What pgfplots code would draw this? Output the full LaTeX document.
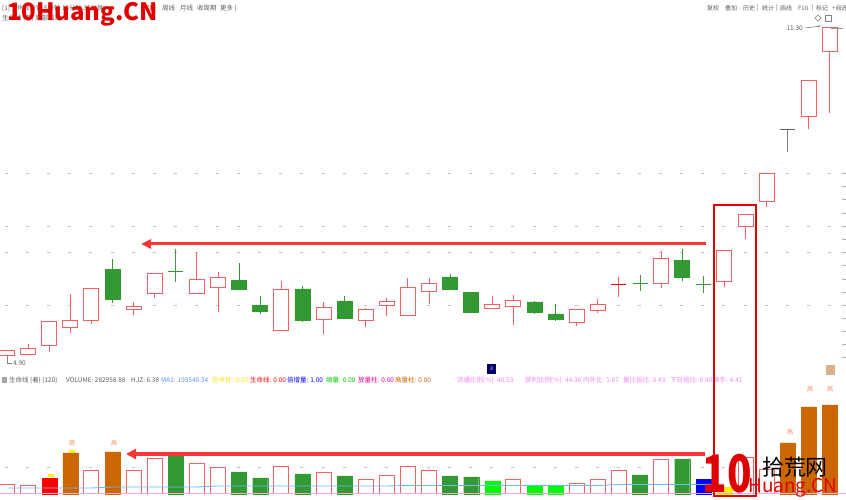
\documentclass[border=0pt]{standalone}
\usepackage{fontspec}
\setmainfont{Noto Sans CJK SC}
\usepackage{pgfplots}
\pgfplotsset{compat=1.18}
\usepackage{pgfplotstable}
\usetikzlibrary{arrows.meta}

\definecolor{upred}{RGB}{245,95,95}
\definecolor{dngreen}{RGB}{51,153,51}
\definecolor{limeg}{RGB}{0,250,0}
\definecolor{volorange}{RGB}{204,102,0}
\definecolor{arrowred}{RGB}{250,55,55}
\definecolor{mablue}{RGB}{110,185,255}
\definecolor{txtgray}{RGB}{95,95,95}
\definecolor{magtxt}{RGB}{245,130,245}
\definecolor{wmred}{RGB}{225,0,0}
\definecolor{lblorange}{RGB}{240,150,110}

% candles: index, open, high, low, close
\pgfplotstableread{
i o h l c
0 5.03 5.13 4.90 5.13
1 5.05 5.24 5.05 5.15
2 5.21 5.67 5.09 5.67
3 5.57 6.20 5.46 5.70
4 5.69 6.30 5.63 6.30
6 5.90 6.05 5.80 5.97
7 6.22 6.59 6.13 6.59
9 6.22 7.01 6.22 6.49
10 6.32 6.62 5.86 6.51
13 5.51 6.45 5.49 6.28
15 5.72 6.05 5.44 5.95
17 5.69 5.93 5.57 5.90
18 5.99 6.13 5.78 6.05
19 5.80 6.51 5.80 6.32
20 6.26 6.51 6.01 6.41
23 5.92 6.16 5.92 6.01
24 5.97 6.18 5.61 6.07
27 5.65 5.90 5.59 5.90
28 5.88 6.11 5.84 6.01
31 6.41 7.03 6.32 6.89
34 6.45 7.03 6.34 7.03
35 7.49 7.72 7.26 7.72
36 7.97 8.52 7.87 8.52
38 9.61 10.30 9.36 10.30
39 10.84 11.30 9.67 11.30
}\upc

\pgfplotstableread{
i o h l c
5 6.68 6.87 6.03 6.11
11 6.47 6.80 6.28 6.30
12 5.99 6.16 5.82 5.88
14 6.30 6.36 5.67 5.69
16 6.07 6.16 5.74 5.74
21 6.53 6.59 6.28 6.30
22 6.24 6.24 5.84 5.86
25 6.05 6.07 5.82 5.86
26 5.82 6.01 5.69 5.72
32 6.84 7.07 6.45 6.53
}\dnc

\pgfplotstableread{
i o h l c
29 6.38 6.53 6.15 6.38
}\dojired

\pgfplotstableread{
i o h l c
8 6.63 7.07 6.43 6.63
30 6.40 6.57 6.26 6.40
33 6.39 6.55 6.22 6.39
}\dojigreen

\pgfplotstableread{
i o h l c
37 9.36 9.36 8.92 9.36
}\dojigray

\pgfplotsset{
  pricepane/.style={at={(0,130bp)}, anchor=south west, scale only axis,
    width=846bp, height=370bp, xmin=-0.3318, xmax=39.763,
    ymin=4.747, ymax=11.836, axis lines=none},
  volpane/.style={at={(0,0)}, anchor=south west, scale only axis,
    width=846bp, height=120bp, xmin=-0.3318, xmax=39.763,
    ymin=-19076, ymax=362440, axis lines=none},
  wick/.style={draw=none, mark=none, error bars/.cd, y dir=plus, y explicit,
    error mark=none, error bar style={draw=#1, solid, line width=1bp}},
  vbar/.style={ybar, bar width=15bp, bar shift=0pt},
}

\newcommand{\tf}{\fontsize{6.5}{7}\selectfont}

\begin{document}
\begin{tikzpicture}
\useasboundingbox (0,0) rectangle (846bp,500bp);
\fill[white] (0,0) rectangle (846bp,500bp);

% dotted grid
\begin{scope}[x=1bp,y=-1bp,yshift=500bp]
\foreach \y in {173,226,252,305,467}
  \draw[gray!50, line width=0.8bp, dash pattern=on 3bp off 18.1bp, dash phase=16.1bp] (0,\y) -- (846,\y);
\foreach \y in {173,186,199,213,226,239,252,265,279,292,305,318,331,344,357}
  \draw[gray!60, line width=0.6bp] (842,\y) -- (846,\y);
\end{scope}

% wicks and doji
\begin{axis}[pricepane]
\addplot[wick=upred] table[x=i, y=l, y error expr=\thisrow{h}-\thisrow{l}] {\upc};
\addplot[wick=dngreen] table[x=i, y=l, y error expr=\thisrow{h}-\thisrow{l}] {\dnc};
\addplot[wick=upred] table[x=i, y=l, y error expr=\thisrow{h}-\thisrow{l}] {\dojired};
\addplot[wick=dngreen!70!gray] table[x=i, y=l, y error expr=\thisrow{h}-\thisrow{l}] {\dojigreen};
\addplot[wick=gray] table[x=i, y=l, y error expr=\thisrow{h}-\thisrow{l}] {\dojigray};
\addplot[only marks, mark=-, mark size=7.5bp, mark options={draw=red!85!black, line width=1.2bp}] table[x=i, y=c] {\dojired};
\addplot[only marks, mark=-, mark size=7.5bp, mark options={draw=dngreen, line width=1.2bp}] table[x=i, y=c] {\dojigreen};
\addplot[only marks, mark=-, mark size=7.5bp, mark options={draw=gray!80!black, line width=1.2bp}] table[x=i, y=c] {\dojigray};
\end{axis}

% rising bodies (hollow)
\begin{axis}[pricepane, ybar stacked, bar width=15bp]
\addplot[draw=none, fill=none] table[x=i, y=o] {\upc};
\addplot[draw=upred, fill=white, line width=1bp] table[x=i, y expr=\thisrow{c}-\thisrow{o}] {\upc};
\end{axis}

% falling bodies (filled)
\begin{axis}[pricepane, ybar stacked, bar width=15bp]
\addplot[draw=none, fill=none] table[x=i, y=c] {\dnc};
\addplot[draw=dngreen, fill=dngreen, line width=0.6bp] table[x=i, y expr=\thisrow{o}-\thisrow{c}] {\dnc};
\end{axis}

% volume
\begin{axis}[volpane]
\addplot[vbar, draw=upred, fill=white, line width=1bp] coordinates {
(0,28614) (1,25434) (4,73124) (6,73124) (7,111276) (9,95380) (10,82663)
(13,85842) (15,66766) (17,44511) (18,57228) (19,85842) (20,73124) (24,44511)
(27,31793) (28,44511) (29,73124) (31,108097) (35,114455) (36,76303)};
\addplot[vbar, draw=red, fill=red] coordinates {(2,50869)};
\addplot[vbar, draw=volorange, fill=volorange] coordinates {
(3,130351) (5,133531) (37,162145) (38,276597) (39,282959)};
\addplot[vbar, draw=dngreen, fill=dngreen] coordinates {
(8,120814) (11,69945) (12,50869) (14,63587) (16,57228) (21,57228) (22,54048)
(30,60407) (32,111276)};
\addplot[vbar, draw=limeg, fill=limeg] coordinates {(23,41331) (25,28614) (26,28614)};
\addplot[vbar, draw=blue, fill=blue] coordinates {(33,47690)};
\addplot[vbar, draw=yellow, fill=yellow] coordinates {(34,22255)};
\addplot[mablue, line width=0.9bp] coordinates {
(0,19076) (1,19076) (2,19076) (3,19076) (4,19076) (5,22255) (6,22255) (7,22255)
(8,22255) (9,22255) (10,25434) (11,25434) (12,25434) (13,25434) (14,25434)
(15,25434) (16,25434) (17,25434) (18,25434) (19,27023) (20,27023) (21,27023)
(22,27023) (23,27023) (24,27023) (25,27023) (26,27023) (27,27023) (28,27023)
(29,30203) (30,30203) (31,30203) (32,30203) (33,30203) (34,31793)};
\draw[magenta!35, line width=1bp] (axis cs:-0.3318,0) -- (axis cs:39.763,0);
\end{axis}

% annotations, in pixel coordinates
\begin{scope}[x=1bp,y=-1bp,yshift=500bp, every node/.style={inner sep=0pt, anchor=west, font=\tf}]
% header
\node[txtgray] at (2,8) {[1] 分时 1分钟 5分钟 15分钟 30分钟};
\node[red] at (143,8) {日线};
\node[txtgray] at (162,8) {周线};
\node[txtgray] at (180,8) {月线};
\node[txtgray] at (197,8) {收周期};
\node[txtgray] at (220,8) {更多 )};
\node[txtgray] at (2,18) {生命线 (着) 底部启动};
\node[wmred, anchor=base west, font=\fontsize{24}{24}\selectfont\bfseries] at (7,21) {10Huang.CN};
\node[txtgray, font=\fontsize{6}{7}\selectfont] at (707,8) {复权};
\node[txtgray, font=\fontsize{6}{7}\selectfont] at (725,8) {叠加};
\node[txtgray, font=\fontsize{6}{7}\selectfont] at (743,8) {历史};
\node[txtgray, font=\fontsize{6}{7}\selectfont] at (757,8) {|};
\node[txtgray, font=\fontsize{6}{7}\selectfont] at (762,8) {统计};
\node[txtgray, font=\fontsize{6}{7}\selectfont] at (776,8) {|};
\node[txtgray, font=\fontsize{6}{7}\selectfont] at (780,8) {画线};
\node[txtgray, font=\fontsize{6}{7}\selectfont] at (798,8) {F10};
\node[txtgray, font=\fontsize{6}{7}\selectfont] at (812,8) {|};
\node[txtgray, font=\fontsize{6}{7}\selectfont] at (816,8) {标记};
\node[txtgray, font=\fontsize{6}{7}\selectfont] at (832,8) {+自选};
\draw[gray, line width=0.6bp] (815,18) -- (818,15) -- (821,18) -- (818,21) -- cycle;
\draw[gray, line width=0.6bp] (825,15) rectangle (831,21);
% price labels
\node[txtgray, anchor=east] at (803,28) {11.30};
\draw[gray, line width=0.6bp, -{Stealth[length=3bp]}] (805,28) -- (821,26);
\draw[gray!80, line width=0.8bp] (831,28) -- (843,28);
\draw[gray, line width=0.6bp] (7,357) -- (7,363) -- (12,363);
\node[txtgray] at (13,363) {4.90};
% indicator line
\fill[gray!70] (2,377) rectangle (7,383);
\node[txtgray] at (9,380) {生命线 (着) (120)};
\node[txtgray] at (66,380) {VOLUME: 282958.88};
\node[txtgray] at (131,380) {HJZ: 6.38};
\node[mablue!80!blue] at (161,380) {MA1: 193540.34};
\node[yellow!85!orange] at (212,380) {信号柱: 0.00};
\node[red] at (250,380) {生命线: 0.00};
\node[blue] at (287,380) {倍增量: 1.00};
\node[green!80!black] at (326,380) {缩量: 0.00};
\node[magenta] at (358,380) {放量柱: 0.00};
\node[orange!80!black] at (395,380) {高量柱: 0.00};
\node[magtxt] at (457,380) {流通比例[\%]: 40.53};
\node[magtxt] at (525,380) {获利比例[\%]: 44.36};
\node[magtxt] at (583,380) {内外比: 1.07};
\node[magtxt] at (623,380) {量比倍比: 0.43};
\node[magtxt] at (670,380) {下日倍比: 0.80};
\node[magtxt] at (713,380) {换手: 4.41};
\fill[blue!45!black] (487,364) rectangle (496,374);
\node[white, anchor=center, font=\fontsize{5}{5}\selectfont] at (491.5,369) {3};
\fill[brown!60] (826,365) rectangle (835,375);
% volume labels
\node[lblorange, anchor=center] at (72,443) {高};
\node[lblorange, anchor=center] at (114,443) {高};
\node[lblorange, anchor=center] at (790,432) {高};
\node[lblorange, anchor=center] at (810,389) {高};
\node[lblorange, anchor=center] at (830,389) {高};
\fill[yellow] (48,474) rectangle (54,477);
\fill[yellow] (69,450) rectangle (75,453);
% arrows and box
\draw[arrowred, line width=3bp, -{Triangle[length=10bp, width=9bp]}] (706,244) -- (141,244);
\draw[arrowred, line width=3.5bp, -{Triangle[length=10bp, width=10bp]}] (705,454) -- (126,454);
\draw[red!90!black, line width=2bp] (714,205) rectangle (756,496);
% watermark
\node[wmred, anchor=center, font=\fontsize{52}{52}\selectfont\bfseries, xscale=0.78] at (727,474) {10};
\node[black, anchor=center, font=\fontsize{22}{22}\selectfont] at (795,467) {拾荒网};
\node[wmred, anchor=center, font=\fontsize{19}{19}\selectfont] at (793,488) {Huang.CN};
\end{scope}
\end{tikzpicture}
\end{document}
